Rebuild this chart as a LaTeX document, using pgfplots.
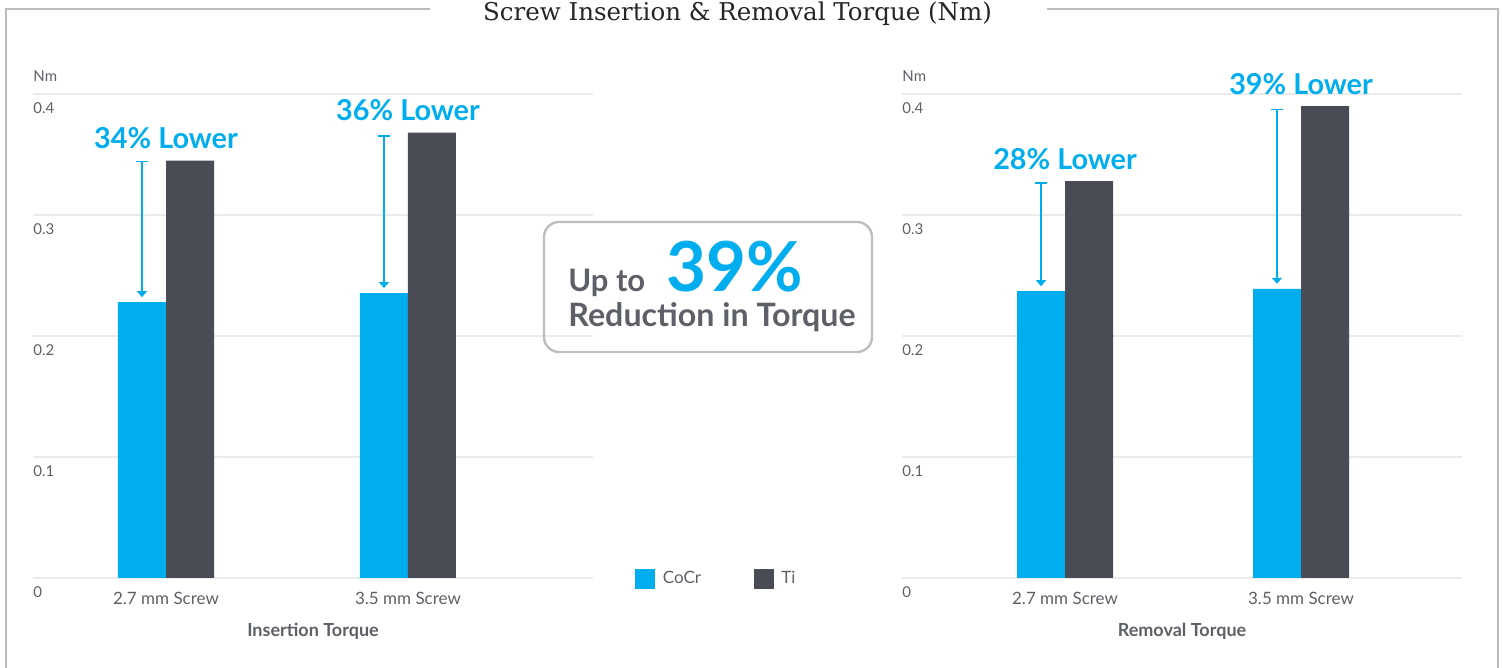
\documentclass[border=0pt]{standalone}
\usepackage{fontspec}
\setmainfont{Lato}
\newfontfamily\titlefont{DejaVu Serif}
\usepackage{pgfplots}
\pgfplotsset{compat=1.18}
\usetikzlibrary{arrows.meta}
\definecolor{cblue}{HTML}{00AEEF}
\definecolor{cdark}{HTML}{494C55}
\definecolor{cgray}{HTML}{5E6067}
\definecolor{cgrid}{HTML}{EBEBEB}
\definecolor{cframe}{HTML}{BDBDBD}

\pgfplotsset{
 mybars/.style={
  scale only axis, width=280pt, height=242pt, anchor=south west,
  ybar=0pt, bar width=24pt,
  ymin=0, ymax=0.4, ytick={0,0.1,0.2,0.3,0.4}, yticklabels={0,0.1,0.2,0.3,0.4},
  ymajorgrids, grid style={cgrid, line width=1pt},
  axis line style={draw=none}, major tick length=0pt,
  xtick={0,1}, xticklabels={2.7 mm Screw,3.5 mm Screw},
  xticklabel style={anchor=north, inner sep=0pt, yshift=-7pt, font=\fontsize{8.5}{10}\selectfont, text=cgray},
  yticklabel style={anchor=north west, inner sep=0pt, yshift=-4pt, font=\fontsize{7.5}{9}\selectfont, text=cgray},
  clip=false,
 },
}
\tikzset{
 arr/.style={cblue, line width=0.8pt, {Bar[width=6pt]}-{Triangle[width=5pt,length=3pt]}, shorten >=2.5pt},
 lab/.style={anchor=base, inner sep=0pt, yshift=6pt, text=cblue, font=\fontsize{14.4}{16}\bfseries\selectfont},
 axlab/.style={anchor=north, inner sep=0pt, yshift=-22.5pt, text=cgray, font=\fontsize{9}{11}\bfseries\selectfont},
 nmlab/.style={anchor=base west, inner sep=0pt, yshift=6pt, text=cgray, font=\fontsize{7.5}{9}\selectfont},
}

\begin{document}
\begin{tikzpicture}
\path[use as bounding box] (0,0) rectangle (751pt,334pt);
% frame
\draw[cframe, line width=1.3pt] (215pt,329.5pt) -- (3pt,329.5pt) -- (3pt,0pt);
\draw[cframe, line width=1.3pt] (523.5pt,329.5pt) -- (749pt,329.5pt) -- (749pt,0pt);
\node[anchor=base, inner sep=0pt, font=\titlefont\fontsize{12.25}{14}\selectfont, text=black!85] at (368.75pt,323.5pt) {Screw Insertion \& Removal Torque (Nm)};

% left axis
\begin{axis}[mybars, at={(16.5pt,45pt)}, xmin=-0.5496, xmax=1.7645,
  legend columns=2,
  legend style={at={(1.075,-0.002)}, anchor=west, draw=none, fill=none, inner sep=0pt,
    font=\fontsize{8.5}{10}\selectfont, text=cgray,
    /tikz/every odd column/.append style={column sep=1.7pt},
    /tikz/every even column/.append style={column sep=24.5pt}},
  legend image code/.code={\fill[#1] (0pt,-5pt) rectangle (10pt,5pt);},
]
\addplot[fill=cblue, draw=none] coordinates {(0,0.228) (1,0.2355)};
\addplot[fill=cdark, draw=none] coordinates {(0,0.345) (1,0.368)};
\legend{CoCr,Ti}
\draw[arr] ([xshift=-12pt]axis cs:0,0.345) -- ([xshift=-12pt]axis cs:0,0.228);
\draw[arr] ([xshift=-12pt]axis cs:1,0.366) -- ([xshift=-12pt]axis cs:1,0.2355);
\node[lab] at (axis cs:0,0.345) {34\% Lower};
\node[lab] at (axis cs:1,0.368) {36\% Lower};
\node[axlab] at (rel axis cs:0.5,0) {Insertion Torque};
\node[nmlab] at (rel axis cs:0,1) {Nm};
\end{axis}

% right axis
\begin{axis}[mybars, at={(451pt,45pt)}, xmin=-0.6907, xmax=1.6822]
\addplot[fill=cblue, draw=none] coordinates {(0,0.237) (1,0.239)};
\addplot[fill=cdark, draw=none] coordinates {(0,0.328) (1,0.390)};
\draw[arr] ([xshift=-12pt]axis cs:0,0.327) -- ([xshift=-12pt]axis cs:0,0.237);
\draw[arr] ([xshift=-12pt]axis cs:1,0.388) -- ([xshift=-12pt]axis cs:1,0.239);
\node[lab] at (axis cs:0,0.328) {28\% Lower};
\node[lab] at (axis cs:1,0.390) {39\% Lower};
\node[axlab] at (rel axis cs:0.5,0) {Removal Torque};
\node[nmlab] at (rel axis cs:0,1) {Nm};
\end{axis}

% centre box
\draw[cframe, line width=1.2pt, rounded corners=7.5pt] (272pt,158pt) rectangle (436pt,223pt);
\node[anchor=base west, inner sep=0pt, text=cgray, font=\fontsize{15.5}{17}\bfseries\selectfont] at (284pt,188pt) {Up to};
\node[anchor=base west, inner sep=0pt, text=cblue, font=\fontsize{34.5}{38}\bfseries\selectfont] at (333pt,188pt) {39\%};
\node[anchor=base west, inner sep=0pt, text=cgray, font=\fontsize{16.1}{18}\bfseries\selectfont] at (284pt,170.5pt) {Reduction in Torque};
\end{tikzpicture}
\end{document}
